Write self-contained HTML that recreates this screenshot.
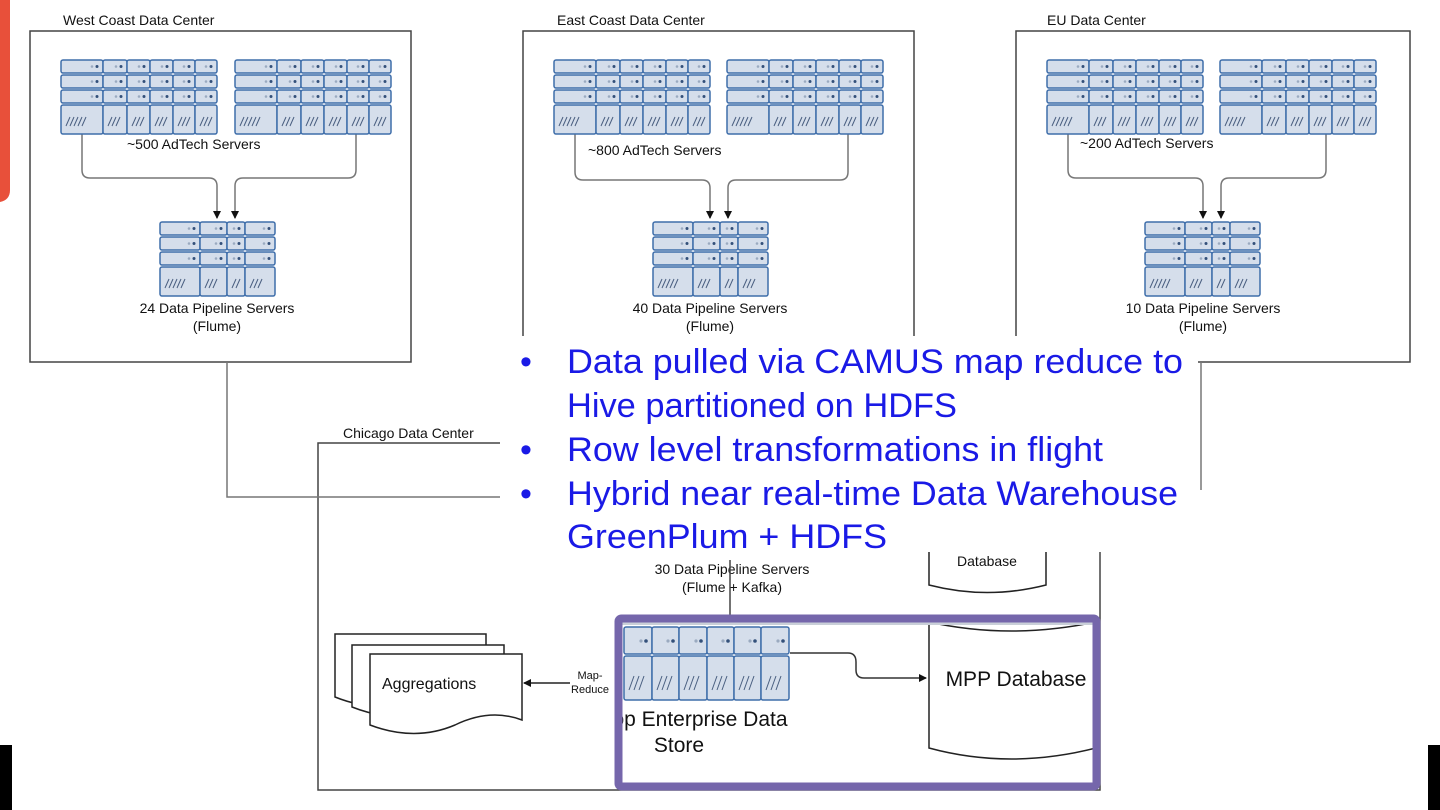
<!DOCTYPE html>
<html><head><meta charset="utf-8">
<style>
html,body{margin:0;padding:0;background:#fff;width:1440px;height:810px;overflow:hidden;}
svg{display:block;}
.t{font-family:"Liberation Sans",sans-serif;font-size:14px;fill:#111;}
.b{font-family:"Liberation Sans",sans-serif;font-size:34px;fill:#1a1ae6;}
</style></head>
<body>
<svg id="s" width="1440" height="810" viewBox="0 0 1440 810" xmlns="http://www.w3.org/2000/svg">
<defs>
<marker id="ah" markerWidth="8" markerHeight="8" refX="7" refY="4" orient="auto" markerUnits="userSpaceOnUse"><path d="M0,0 L8,4 L0,8 z" fill="#111"/></marker>
<clipPath id="pc"><rect x="620" y="620" width="476" height="166"/></clipPath>
</defs>
<path d="M0,0 H10 V190 Q10,200 0,202 Z" fill="#e8503a"/>
<rect x="0" y="745" width="12" height="65" fill="#000"/>
<rect x="1428" y="745" width="12" height="65" fill="#000"/>

<g fill="none" stroke="#444" stroke-width="1.5">
<rect x="30" y="31" width="381" height="331"/>
<rect x="523" y="31" width="391" height="331"/>
<rect x="1016" y="31" width="394" height="331"/>
<rect x="318" y="443" width="782" height="347"/>
</g>
<g fill="none" stroke="#777" stroke-width="1.5">
<path d="M227,362 V497 H510"/>
<path d="M1201,362 V490"/>
<path d="M82,134 V170 Q82,178 90,178 H209 Q217,178 217,186 V218" marker-end="url(#ah)"/>
<path d="M356,134 V170 Q356,178 348,178 H243 Q235,178 235,186 V218" marker-end="url(#ah)"/>
<path d="M575,134 V172 Q575,180 583,180 H702 Q710,180 710,188 V218" marker-end="url(#ah)"/>
<path d="M848,134 V172 Q848,180 840,180 H736 Q728,180 728,188 V218" marker-end="url(#ah)"/>
<path d="M1068,134 V170 Q1068,178 1076,178 H1195 Q1203,178 1203,186 V218" marker-end="url(#ah)"/>
<path d="M1326,134 V170 Q1326,178 1318,178 H1229 Q1221,178 1221,186 V218" marker-end="url(#ah)"/>
</g>
<g id="racks"></g>

<text class="t" x="63" y="25">West Coast Data Center</text>
<text class="t" x="557" y="25">East Coast Data Center</text>
<text class="t" x="1047" y="25">EU Data Center</text>
<text class="t" x="127" y="149">~500 AdTech Servers</text>
<text class="t" x="588" y="155">~800 AdTech Servers</text>
<text class="t" x="1080" y="148">~200 AdTech Servers</text>
<g class="t" text-anchor="middle">
<text x="217" y="313">24 Data Pipeline Servers</text><text x="217" y="331">(Flume)</text>
<text x="710" y="313">40 Data Pipeline Servers</text><text x="710" y="331">(Flume)</text>
<text x="1203" y="313">10 Data Pipeline Servers</text><text x="1203" y="331">(Flume)</text>
</g>

<text class="t" x="343" y="438">Chicago Data Center</text>
<path d="M929,552 V585 Q987,600 1046,585 V552" fill="none" stroke="#222" stroke-width="1.5"/>
<text class="t" x="987" y="566" text-anchor="middle">Database</text>
<g class="t" text-anchor="middle"><text x="732" y="574">30 Data Pipeline Servers</text><text x="732" y="592">(Flume + Kafka)</text></g>
<path d="M730,560 V615" stroke="#444" stroke-width="1.5" fill="none"/>

<g fill="#fff" stroke="#222" stroke-width="1.5">
<path d="M335,634 H486 V690 Q455,680 420,698 Q380,715 335,697 Z"/>
<path d="M352,645 H504 V700 Q470,690 437,708 Q398,725 352,707 Z"/>
<path d="M370,654 H522 V720 Q490,708 455,725 Q415,742 370,725 Z"/>
</g>
<text class="t" x="382" y="689" style="font-size:16px">Aggregations</text>
<path d="M570,683 H524" stroke="#222" stroke-width="1.5" marker-end="url(#ah)"/>
<g class="t" style="font-size:11px" text-anchor="middle"><text x="590" y="679">Map-</text><text x="590" y="693">Reduce</text></g>

<rect x="619" y="619" width="477" height="167" fill="#fff"/>
<g clip-path="url(#pc)">
<g id="chiRack"></g>
<path d="M929,622 V748 Q1010,770 1096,748 V622" fill="#fff" stroke="#222" stroke-width="1.5"/>
<path d="M929,622 Q1010,640 1096,622" fill="none" stroke="#222" stroke-width="1.5"/>
<rect x="620" y="620" width="476" height="5" fill="#c9cfd8"/>
<path d="M790,653 H848 Q856,653 856,662 V670 Q856,678 864,678 H926" fill="none" stroke="#333" stroke-width="1.5" marker-end="url(#ah)"/>
<text class="t" x="1016" y="686" text-anchor="middle" style="font-size:21px">MPP Database</text>
<g class="t" style="font-size:21px" text-anchor="middle"><text x="700" y="726">op Enterprise Data</text><text x="679" y="752">Store</text></g>
</g>
<rect x="618.5" y="618.5" width="478" height="168" rx="3" fill="none" stroke="#7566ab" stroke-width="8"/>

<rect x="500" y="336" width="698" height="216" fill="#fff"/>
<g class="b">
<text x="520" y="373">•</text><text x="567" y="373" textLength="616" lengthAdjust="spacingAndGlyphs">Data pulled via CAMUS map reduce to</text>
<text x="567" y="417" textLength="390" lengthAdjust="spacingAndGlyphs">Hive partitioned on HDFS</text>
<text x="520" y="461">•</text><text x="567" y="461" textLength="536" lengthAdjust="spacingAndGlyphs">Row level transformations in flight</text>
<text x="520" y="505">•</text><text x="567" y="505" textLength="611" lengthAdjust="spacingAndGlyphs">Hybrid near real-time Data Warehouse</text>
<text x="567" y="548" textLength="320" lengthAdjust="spacingAndGlyphs">GreenPlum + HDFS</text>
</g>
</svg>
<script>
var NS="http://www.w3.org/2000/svg";
function el(p,n,a){var e=document.createElementNS(NS,n);for(var k in a)e.setAttribute(k,a[k]);p.appendChild(e);return e;}
function rack(g,x,y,cols,rowH,gap,botH){
  var cx=x;
  cols.forEach(function(w){
    for(var r=0;r<3;r++){
      var yy=y+r*(rowH+gap);
      el(g,"rect",{x:cx,y:yy,width:w,height:rowH,rx:2,fill:"#d5deeb",stroke:"#3f6eaa","stroke-width":1.5});
      el(g,"circle",{cx:cx+w-11,cy:yy+rowH/2,r:1.3,fill:"#9aaac0"});
      el(g,"circle",{cx:cx+w-6,cy:yy+rowH/2,r:1.5,fill:"#33507a"});
    }
    var by=y+3*(rowH+gap);
    el(g,"rect",{x:cx,y:by,width:w,height:botH,rx:2,fill:"#d5deeb",stroke:"#3f6eaa","stroke-width":1.5});
    var n=w>35?5:(w<20?2:3);
    for(var i=0;i<n;i++){var sx=cx+5+i*4;el(g,"line",{x1:sx,y1:by+botH-8,x2:sx+4,y2:by+botH-17,stroke:"#4a5f80","stroke-width":1});}
    cx+=w;
  });
}
var g=document.getElementById("racks");
var big=[42,24,23,23,22,22];
[[61,60],[235,60],[554,60],[727,60],[1047,60],[1220,60]].forEach(function(p){rack(g,p[0],p[1],big,13,2,29);});
var sm=[40,27,18,30];
[[160,222],[653,222],[1145,222]].forEach(function(p){rack(g,p[0],p[1],sm,13,2,29);});
var c=document.getElementById("chiRack");
var cc=[28,27,28,27,27,28];
var cx=624;
cc.forEach(function(w){
  el(c,"rect",{x:cx,y:600,width:w,height:24,rx:2,fill:"#d5deeb",stroke:"#3f6eaa","stroke-width":1.5});
  el(c,"rect",{x:cx,y:627,width:w,height:27,rx:2,fill:"#d5deeb",stroke:"#3f6eaa","stroke-width":1.5});
  el(c,"circle",{cx:cx+w-11,cy:641,r:1.6,fill:"#9aaac0"});
  el(c,"circle",{cx:cx+w-6,cy:641,r:1.8,fill:"#33507a"});
  el(c,"rect",{x:cx,y:656,width:w,height:44,rx:2,fill:"#d5deeb",stroke:"#3f6eaa","stroke-width":1.5});
  for(var i=0;i<3;i++){var sx=cx+5+i*5;el(c,"line",{x1:sx,y1:690,x2:sx+5,y2:676,stroke:"#4a5f80","stroke-width":1});}
  cx+=w;
});
</script>
</body></html>
